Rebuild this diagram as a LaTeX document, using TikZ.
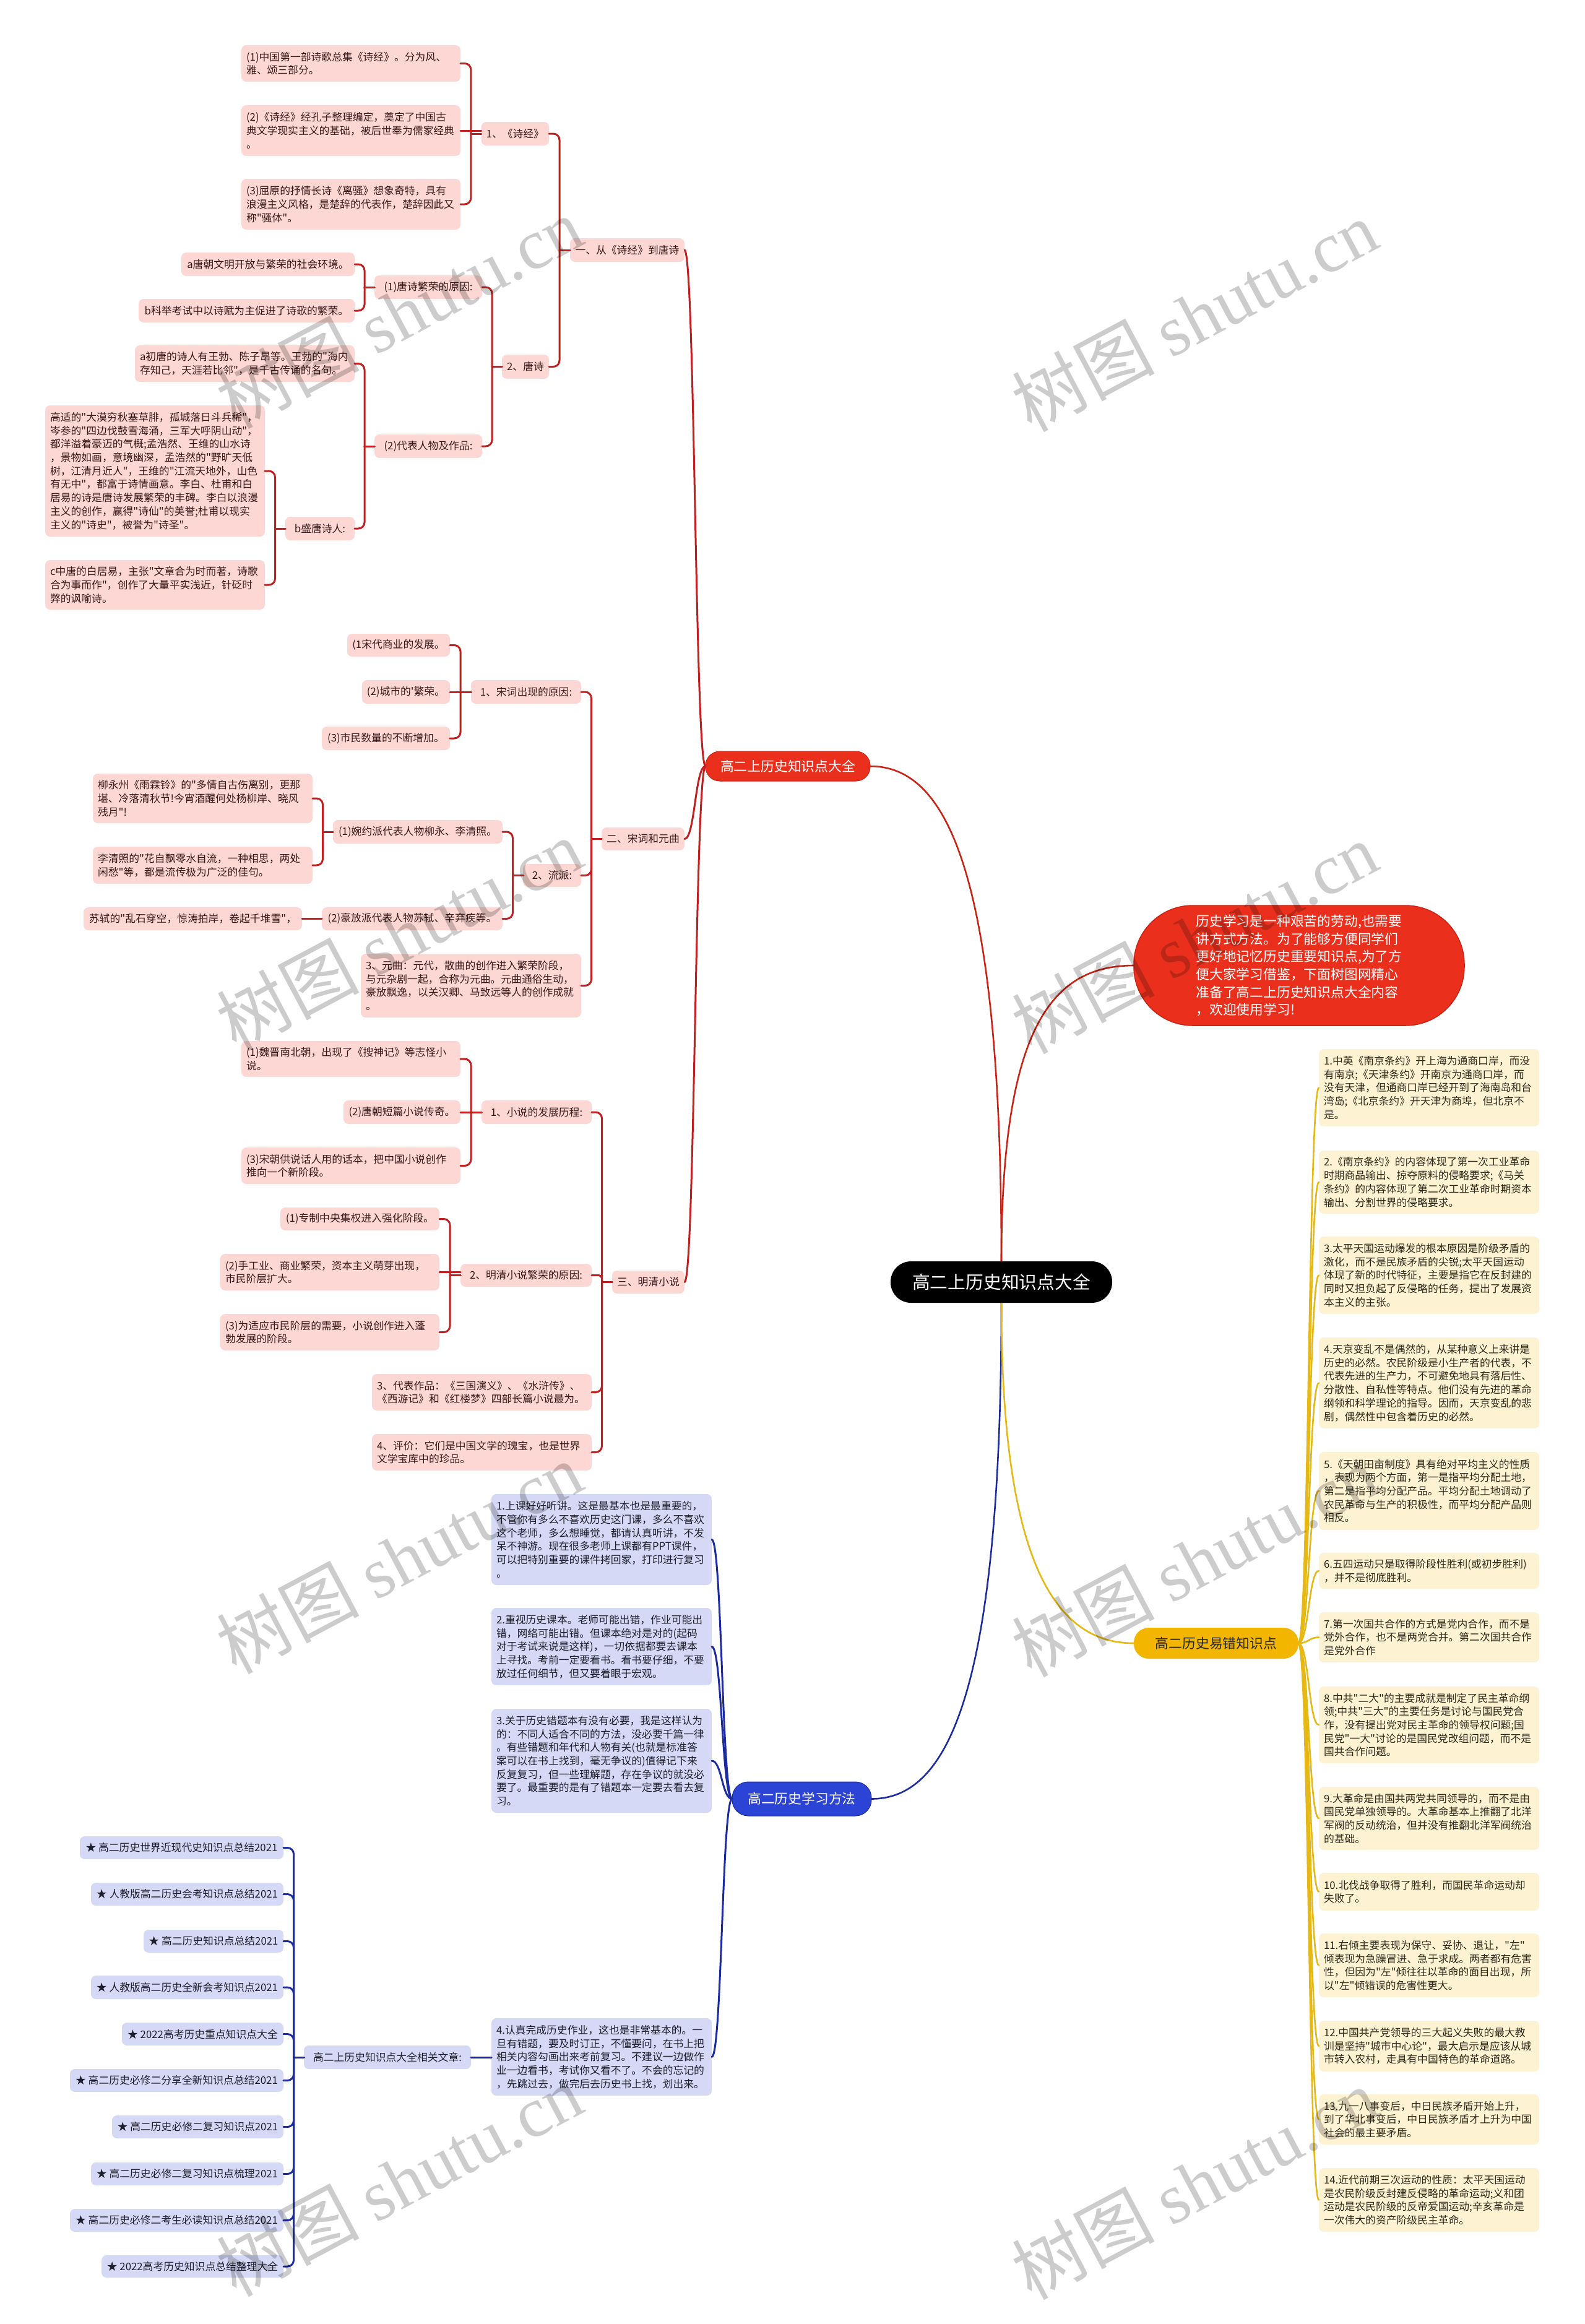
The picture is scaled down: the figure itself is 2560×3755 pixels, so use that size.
\documentclass[tikz,border=0pt]{standalone}
\usepackage{fontspec}
\newfontfamily\cjk{Noto Sans CJK SC}
\newfontfamily\wmlat{Liberation Serif}
\usetikzlibrary{calc}
\definecolor{pkfill}{RGB}{252,215,211}
\definecolor{pktext}{RGB}{55,25,25}
\definecolor{pkline}{RGB}{192,32,32}
\definecolor{redbr}{RGB}{234,48,28}
\definecolor{redbrd}{RGB}{200,35,20}
\definecolor{blfill}{RGB}{214,217,246}
\definecolor{bltext}{RGB}{30,30,45}
\definecolor{blline}{RGB}{28,44,160}
\definecolor{blbr}{RGB}{44,68,214}
\definecolor{ylfill}{RGB}{253,242,210}
\definecolor{yltext}{RGB}{45,40,25}
\definecolor{ylline}{RGB}{230,184,20}
\definecolor{ylbr}{RGB}{242,182,0}
\newcommand\fsm{\cjk\fontsize{16.8pt}{21.7pt}\selectfont}
\newcommand\fbr{\cjk\fontsize{21.8pt}{26pt}\selectfont}
\newcommand\fbub{\cjk\fontsize{21.8pt}{28.6pt}\selectfont}
\newcommand\fctr{\cjk\fontsize{28.8pt}{34pt}\selectfont}
\newcommand\fwm{\cjk\fontsize{115pt}{125pt}\selectfont}
% multi-line box: name, style, x1, y1, x2, y2, text
\newcommand\mnd[7]{\pgfmathsetmacro\mybw{#5-#3}\pgfmathsetmacro\mybh{#6-#4}\pgfmathsetmacro\mytw{#5-#3-16}%
  \node[#2, anchor=north west, minimum width=\mybw pt, minimum height=\mybh pt, text width=\mytw pt, align=left] (#1) at (#3,#4) {#7};}
% single-line box
\newcommand\snd[7]{\pgfmathsetmacro\mybw{#5-#3}\pgfmathsetmacro\mybh{#6-#4}%
  \node[#2, anchor=east, minimum width=\mybw pt, minimum height=\mybh pt] (#1) at (#5,{(#4+#6)/2}) {#7};}
% elbow connector: parent right, child left
\newcommand\elb[4][10pt]{%
  \draw[#2, rounded corners=#1] let \p1=(#3.west), \p2=(#4.east) in (\p2) -| ({(\x1+\x2)/2},\y1);
  \draw[#2] let \p1=(#3.west), \p2=(#4.east) in ({(\x1+\x2)/2},\y1) -- (\p1);}
\newcommand\stl[3]{\draw[#1] (#3.east) -- (#3.east -| #2.west);}
\newcommand\curvL[3]{\draw[#1] let \p1=(#2.west), \p2=(#3.east) in (\p1) .. controls ({(\x1+\x2)/2},\y1) and ({(\x1+\x2)/2},\y2) .. (\p2);}
\newcommand\curvR[3]{\draw[#1] let \p1=(#2.east), \p2=(#3.west) in (\p1) .. controls ({(\x1+\x2)/2},\y1) and ({(\x1+\x2)/2},\y2) .. (\p2);}
\begin{document}
\begin{tikzpicture}[x=1pt,y=-1pt,
  pk/.style={fill=pkfill, text=pktext, rounded corners=8pt, inner xsep=8pt, inner ysep=2pt, outer sep=0pt, font=\fsm},
  bl/.style={fill=blfill, text=bltext, rounded corners=8pt, inner xsep=8pt, inner ysep=2pt, outer sep=0pt, font=\fsm},
  yl/.style={fill=ylfill, text=yltext, rounded corners=8pt, inner xsep=8pt, inner ysep=2pt, outer sep=0pt, font=\fsm},
  brred/.style={fill=redbr, draw=redbrd, line width=1pt, rounded corners=23pt, text=white, font=\fbr, inner sep=0pt, outer sep=0pt},
  brblue/.style={fill=blbr, draw=blline, line width=1pt, rounded corners=26pt, text=white, font=\fbr, inner sep=0pt, outer sep=0pt},
  bryel/.style={fill=ylbr, rounded corners=24pt, text=black!85, font=\fbr, inner sep=0pt, outer sep=0pt},
  bubble/.style={fill=redbr, draw=redbrd, line width=1.5pt, rounded corners=95pt, text=white, font=\fbub, align=left, inner sep=0pt, outer sep=0pt},
  ctrs/.style={fill=black, rounded corners=33pt, text=white, font=\fctr, inner sep=0pt, outer sep=0pt},
  pkc/.style={draw=pkline, line width=3pt, line cap=round},
  blc/.style={draw=blline, line width=3pt, line cap=round},
  ylc/.style={draw=ylline, line width=2.6pt, line cap=round},
  mainred/.style={draw=redbrd, line width=2.6pt},
  mainblue/.style={draw=blline, line width=2.6pt},
  mainyel/.style={draw=ylline, line width=2.6pt},
  wmk/.style={text=black, text opacity=0.2, font=\fwm, inner sep=0pt, rotate=28}]
\fill[white] (0,0) rectangle (2560,3755);
\useasboundingbox (0,0) rectangle (2560,3755);

% ---------- centre and branches ----------
\snd{ctr}{ctrs}{1439}{2038}{1797}{2105}{高二上历史知识点大全}
\snd{b1r}{brred}{1140}{1214}{1406}{1262}{高二上历史知识点大全}
\snd{bub}{bubble}{1832}{1463}{2366}{1657}{历史学习是一种艰苦的劳动,也需要\\讲方式方法。为了能够方便同学们\\更好地记忆历史重要知识点,为了方\\便大家学习借鉴，下面树图网精心\\准备了高二上历史知识点大全内容\\，欢迎使用学习!}
\snd{bbr}{brblue}{1183}{2879}{1408}{2934}{高二历史学习方法}
\snd{ybr}{bryel}{1832}{2630}{2098}{2680}{高二历史易错知识点}

% ---------- 一 ----------
\snd{L1}{pk}{921}{385}{1106}{423}{一、从《诗经》到唐诗}
\snd{n1}{pk}{778}{197}{887}{235}{1、《诗经》}
\mnd{n1a}{pk}{390}{73}{744}{132}{(1)中国第一部诗歌总集《诗经》。分为风、\\雅、颂三部分。}
\mnd{n1b}{pk}{390}{170}{744}{252}{(2)《诗经》经孔子整理编定，奠定了中国古\\典文学现实主义的基础，被后世奉为儒家经典\\。}
\mnd{n1c}{pk}{390}{289}{744}{371}{(3)屈原的抒情长诗《离骚》想象奇特，具有\\浪漫主义风格，是楚辞的代表作，楚辞因此又\\称"骚体"。}
\snd{n2}{pk}{811}{573}{887}{612}{2、唐诗}
\snd{n21}{pk}{605}{445}{779}{483}{(1)唐诗繁荣的原因:}
\snd{n2a}{pk}{293}{408}{573}{446}{a唐朝文明开放与繁荣的社会环境。}
\snd{n2b}{pk}{224}{483}{573}{521}{b科举考试中以诗赋为主促进了诗歌的繁荣。}
\snd{n22}{pk}{605}{702}{779}{740}{(2)代表人物及作品:}
\mnd{n2c}{pk}{218}{558}{573}{617}{a初唐的诗人有王勃、陈子昂等。王勃的"海内\\存知己，天涯若比邻"，是千古传诵的名句。}
\snd{n2f}{pk}{461}{835}{573}{873}{b盛唐诗人:}
\mnd{n2d}{pk}{73}{655}{428}{867}{高适的"大漠穷秋塞草腓，孤城落日斗兵稀"，\\岑参的"四边伐鼓雪海涌，三军大呼阴山动"，\\都洋溢着豪迈的气概;孟浩然、王维的山水诗\\，景物如画，意境幽深，孟浩然的"野旷天低\\树，江清月近人"，王维的"江流天地外，山色\\有无中"，都富于诗情画意。李白、杜甫和白\\居易的诗是唐诗发展繁荣的丰碑。李白以浪漫\\主义的创作，赢得"诗仙"的美誉;杜甫以现实\\主义的"诗史"，被誉为"诗圣"。}
\mnd{n2e}{pk}{73}{905}{428}{985}{c中唐的白居易，主张"文章合为时而著，诗歌\\合为事而作"，创作了大量平实浅近，针砭时\\弊的讽喻诗。}

% ---------- 二 ----------
\snd{L2}{pk}{972}{1337}{1106}{1374}{二、宋词和元曲}
\snd{s1}{pk}{761}{1099}{939}{1137}{1、宋词出现的原因:}
\snd{s1a}{pk}{561}{1024}{727}{1061}{(1宋代商业的发展。}
\snd{s1b}{pk}{585}{1099}{727}{1137}{(2)城市的'繁荣。}
\snd{s1c}{pk}{520}{1174}{727}{1212}{(3)市民数量的不断增加。}
\snd{s2}{pk}{845}{1396}{939}{1433}{2、流派:}
\snd{s21}{pk}{538}{1325}{812}{1363}{(1)婉约派代表人物柳永、李清照。}
\mnd{s2a}{pk}{150}{1250}{505}{1330}{柳永州《雨霖铃》的"多情自古伤离别，更那\\堪、冷落清秋节!今宵酒醒何处杨柳岸、晓风\\残月"!}
\mnd{s2b}{pk}{150}{1368}{505}{1428}{李清照的"花自飘零水自流，一种相思，两处\\闲愁"等，都是流传极为广泛的佳句。}
\snd{s22}{pk}{520}{1466}{812}{1503}{(2)豪放派代表人物苏轼、辛弃疾等。}
\snd{s2c}{pk}{135}{1466}{488}{1503}{苏轼的"乱石穿空，惊涛拍岸，卷起千堆雪"，}
\mnd{s3}{pk}{583}{1541}{939}{1644}{3、元曲：元代，散曲的创作进入繁荣阶段，\\与元杂剧一起，合称为元曲。元曲通俗生动，\\豪放飘逸，以关汉卿、马致远等人的创作成就\\。}

% ---------- 三 ----------
\snd{L3}{pk}{989}{2053}{1106}{2090}{三、明清小说}
\snd{x1}{pk}{778}{1778}{956}{1816}{1、小说的发展历程:}
\mnd{x1a}{pk}{390}{1682}{744}{1740}{(1)魏晋南北朝，出现了《搜神记》等志怪小\\说。}
\snd{x1b}{pk}{555}{1778}{744}{1816}{(2)唐朝短篇小说传奇。}
\mnd{x1c}{pk}{390}{1854}{744}{1913}{(3)宋朝供说话人用的话本，把中国小说创作\\推向一个新阶段。}
\snd{x2}{pk}{744}{2042}{956}{2079}{2、明清小说繁荣的原因:}
\snd{x2a}{pk}{453}{1951}{710}{1988}{(1)专制中央集权进入强化阶段。}
\mnd{x2b}{pk}{356}{2026}{710}{2085}{(2)手工业、商业繁荣，资本主义萌芽出现，\\市民阶层扩大。}
\mnd{x2c}{pk}{356}{2123}{710}{2182}{(3)为适应市民阶层的需要，小说创作进入蓬\\勃发展的阶段。}
\mnd{x3}{pk}{601}{2220}{956}{2279}{3、代表作品：《三国演义》、《水浒传》、\\《西游记》和《红楼梦》四部长篇小说最为。}
\mnd{x4}{pk}{601}{2317}{956}{2376}{4、评价：它们是中国文学的瑰宝，也是世界\\文学宝库中的珍品。}

% ---------- blue ----------
\mnd{bx1}{bl}{794}{2414}{1150}{2561}{1.上课好好听讲。这是最基本也是最重要的，\\不管你有多么不喜欢历史这门课，多么不喜欢\\这个老师，多么想睡觉，都请认真听讲，不发\\呆不神游。现在很多老师上课都有PPT课件，\\可以把特别重要的课件拷回家，打印进行复习\\。}
\mnd{bx2}{bl}{794}{2598}{1150}{2723}{2.重视历史课本。老师可能出错，作业可能出\\错，网络可能出错。但课本绝对是对的(起码\\对于考试来说是这样)，一切依据都要去课本\\上寻找。考前一定要看书。看书要仔细，不要\\放过任何细节，但又要着眼于宏观。}
\mnd{bx3}{bl}{794}{2761}{1150}{2929}{3.关于历史错题本有没有必要，我是这样认为\\的：不同人适合不同的方法，没必要千篇一律\\。有些错题和年代和人物有关(也就是标准答\\案可以在书上找到，毫无争议的)值得记下来\\反复复习，但一些理解题，存在争议的就没必\\要了。最重要的是有了错题本一定要去看去复\\习。}
\mnd{bx4}{bl}{794}{3261}{1150}{3386}{4.认真完成历史作业，这也是非常基本的。一\\旦有错题，要及时订正，不懂要问，在书上把\\相关内容勾画出来考前复习。不建议一边做作\\业一边看书，考试你又看不了。不会的忘记的\\，先跳过去，做完后去历史书上找，划出来。}
\snd{rel}{bl}{491}{3305}{761}{3343}{高二上历史知识点大全相关文章:}
\snd{it1}{bl}{129}{2967}{458}{3004}{★ 高二历史世界近现代史知识点总结2021}
\snd{it2}{bl}{147}{3042}{458}{3079}{★ 人教版高二历史会考知识点总结2021}
\snd{it3}{bl}{232}{3118}{458}{3155}{★ 高二历史知识点总结2021}
\snd{it4}{bl}{147}{3192}{458}{3230}{★ 人教版高二历史全新会考知识点2021}
\snd{it5}{bl}{197}{3268}{458}{3305}{★ 2022高考历史重点知识点大全}
\snd{it6}{bl}{113}{3343}{458}{3380}{★ 高二历史必修二分享全新知识点总结2021}
\snd{it7}{bl}{181}{3418}{458}{3455}{★ 高二历史必修二复习知识点2021}
\snd{it8}{bl}{147}{3494}{458}{3531}{★ 高二历史必修二复习知识点梳理2021}
\snd{it9}{bl}{113}{3569}{458}{3606}{★ 高二历史必修二考生必读知识点总结2021}
\snd{it10}{bl}{164}{3644}{458}{3680}{★ 2022高考历史知识点总结整理大全}

% ---------- yellow ----------
\mnd{y1}{yl}{2131}{1695}{2487}{1820}{1.中英《南京条约》开上海为通商口岸，而没\\有南京;《天津条约》开南京为通商口岸，而\\没有天津，但通商口岸已经开到了海南岛和台\\湾岛;《北京条约》开天津为商埠，但北京不\\是。}
\mnd{y2}{yl}{2131}{1859}{2487}{1961}{2.《南京条约》的内容体现了第一次工业革命\\时期商品输出、掠夺原料的侵略要求;《马关\\条约》的内容体现了第二次工业革命时期资本\\输出、分割世界的侵略要求。}
\mnd{y3}{yl}{2131}{1998}{2487}{2123}{3.太平天国运动爆发的根本原因是阶级矛盾的\\激化，而不是民族矛盾的尖锐;太平天国运动\\体现了新的时代特征，主要是指它在反封建的\\同时又担负起了反侵略的任务，提出了发展资\\本主义的主张。}
\mnd{y4}{yl}{2131}{2161}{2487}{2308}{4.天京变乱不是偶然的，从某种意义上来讲是\\历史的必然。农民阶级是小生产者的代表，不\\代表先进的生产力，不可避免地具有落后性、\\分散性、自私性等特点。他们没有先进的革命\\纲领和科学理论的指导。因而，天京变乱的悲\\剧，偶然性中包含着历史的必然。}
\mnd{y5}{yl}{2131}{2346}{2487}{2472}{5.《天朝田亩制度》具有绝对平均主义的性质\\，表现为两个方面，第一是指平均分配土地，\\第二是指平均分配产品。平均分配土地调动了\\农民革命与生产的积极性，而平均分配产品则\\相反。}
\mnd{y6}{yl}{2131}{2509}{2487}{2567}{6.五四运动只是取得阶段性胜利(或初步胜利)\\，并不是彻底胜利。}
\mnd{y7}{yl}{2131}{2605}{2487}{2686}{7.第一次国共合作的方式是党内合作，而不是\\党外合作，也不是两党合并。第二次国共合作\\是党外合作}
\mnd{y8}{yl}{2131}{2725}{2487}{2849}{8.中共"二大"的主要成就是制定了民主革命纲\\领;中共"三大"的主要任务是讨论与国民党合\\作，没有提出党对民主革命的领导权问题;国\\民党"一大"讨论的是国民党改组问题，而不是\\国共合作问题。}
\mnd{y9}{yl}{2131}{2887}{2487}{2989}{9.大革命是由国共两党共同领导的，而不是由\\国民党单独领导的。大革命基本上推翻了北洋\\军阀的反动统治，但并没有推翻北洋军阀统治\\的基础。}
\mnd{y10}{yl}{2131}{3026}{2487}{3087}{10.北伐战争取得了胜利，而国民革命运动却\\失败了。}
\mnd{y11}{yl}{2131}{3124}{2487}{3227}{11.右倾主要表现为保守、妥协、退让，"左"\\倾表现为急躁冒进、急于求成。两者都有危害\\性，但因为"左"倾往往以革命的面目出现，所\\以"左"倾错误的危害性更大。}
\mnd{y12}{yl}{2131}{3265}{2487}{3347}{12.中国共产党领导的三大起义失败的最大教\\训是坚持"城市中心论"，最大启示是应该从城\\市转入农村，走具有中国特色的革命道路。}
\mnd{y13}{yl}{2131}{3384}{2487}{3465}{13.九一八事变后，中日民族矛盾开始上升，\\到了华北事变后，中日民族矛盾才上升为中国\\社会的最主要矛盾。}
\mnd{y14}{yl}{2131}{3503}{2487}{3606}{14.近代前期三次运动的性质：太平天国运动\\是农民阶级反封建反侵略的革命运动;义和团\\运动是农民阶级的反帝爱国运动;辛亥革命是\\一次伟大的资产阶级民主革命。}

% ---------- main curves ----------
\draw[mainred] (ctr.north) .. controls ($(ctr.north)!0.8!(ctr.north |- b1r.east)$) and ($(b1r.east)+(120,0)$) .. (b1r.east);
\draw[mainred] (ctr.north) .. controls ($(ctr.north)!0.8!(ctr.north |- bub.west)$) and ($(bub.west)+(-130,0)$) .. (bub.west);
\draw[mainblue] (ctr.south) .. controls ($(ctr.south)!0.8!(ctr.south |- bbr.east)$) and ($(bbr.east)+(120,0)$) .. (bbr.east);
\draw[mainyel] (ctr.south) .. controls ($(ctr.south)!0.75!(ctr.south |- ybr.west)$) and ($(ybr.west)+(-130,0)$) .. (ybr.west);

% ---------- red tree connectors ----------
\curvL{pkc}{b1r}{L1} \curvL{pkc}{b1r}{L2} \curvL{pkc}{b1r}{L3}
\elb{pkc}{L1}{n1} \elb{pkc}{L1}{n2}
\elb{pkc}{n1}{n1a} \stl{pkc}{n1}{n1b} \elb{pkc}{n1}{n1c}
\elb{pkc}{n2}{n21} \elb{pkc}{n2}{n22}
\elb{pkc}{n21}{n2a} \elb{pkc}{n21}{n2b}
\elb{pkc}{n22}{n2c} \elb{pkc}{n22}{n2f}
\elb{pkc}{n2f}{n2d} \elb{pkc}{n2f}{n2e}
\elb{pkc}{L2}{s1} \elb{pkc}{L2}{s2} \elb{pkc}{L2}{s3}
\elb{pkc}{s1}{s1a} \stl{pkc}{s1}{s1b} \elb{pkc}{s1}{s1c}
\elb{pkc}{s2}{s21} \elb{pkc}{s2}{s22}
\elb{pkc}{s21}{s2a} \elb{pkc}{s21}{s2b}
\stl{pkc}{s22}{s2c}
\elb{pkc}{L3}{x1} \elb[5pt]{pkc}{L3}{x2} \elb{pkc}{L3}{x3} \elb{pkc}{L3}{x4}
\elb{pkc}{x1}{x1a} \stl{pkc}{x1}{x1b} \elb{pkc}{x1}{x1c}
\elb{pkc}{x2}{x2a} \stl{pkc}{x2}{x2b} \elb{pkc}{x2}{x2c}

% ---------- blue connectors ----------
\curvL{blc}{bbr}{bx1} \curvL{blc}{bbr}{bx2} \curvL{blc}{bbr}{bx3} \curvL{blc}{bbr}{bx4}
\stl{blc}{bx4}{rel}
\elb{blc}{rel}{it1} \elb{blc}{rel}{it2} \elb{blc}{rel}{it3} \elb{blc}{rel}{it4} \elb{blc}{rel}{it5}
\elb{blc}{rel}{it6} \elb{blc}{rel}{it7} \elb{blc}{rel}{it8} \elb{blc}{rel}{it9} \elb{blc}{rel}{it10}

% ---------- yellow connectors ----------
\foreach \k in {1,...,14} {\curvR{ylc}{ybr}{y\k}}

% ---------- watermarks ----------
\node[wmk] (wm1) at (645,505) {树图 {\wmlat shutu.cn}};
\node[wmk] (wm2) at (1930,510) {树图 {\wmlat shutu.cn}};
\node[wmk] (wm3) at (645,1510) {树图 {\wmlat shutu.cn}};
\node[wmk] (wm4) at (1930,1515) {树图 {\wmlat shutu.cn}};
\node[wmk] (wm5) at (645,2517) {树图 {\wmlat shutu.cn}};
\node[wmk] (wm6) at (1930,2522) {树图 {\wmlat shutu.cn}};
\node[wmk] (wm7) at (645,3523) {树图 {\wmlat shutu.cn}};
\node[wmk] (wm8) at (1930,3528) {树图 {\wmlat shutu.cn}};
\end{tikzpicture}
\end{document}
